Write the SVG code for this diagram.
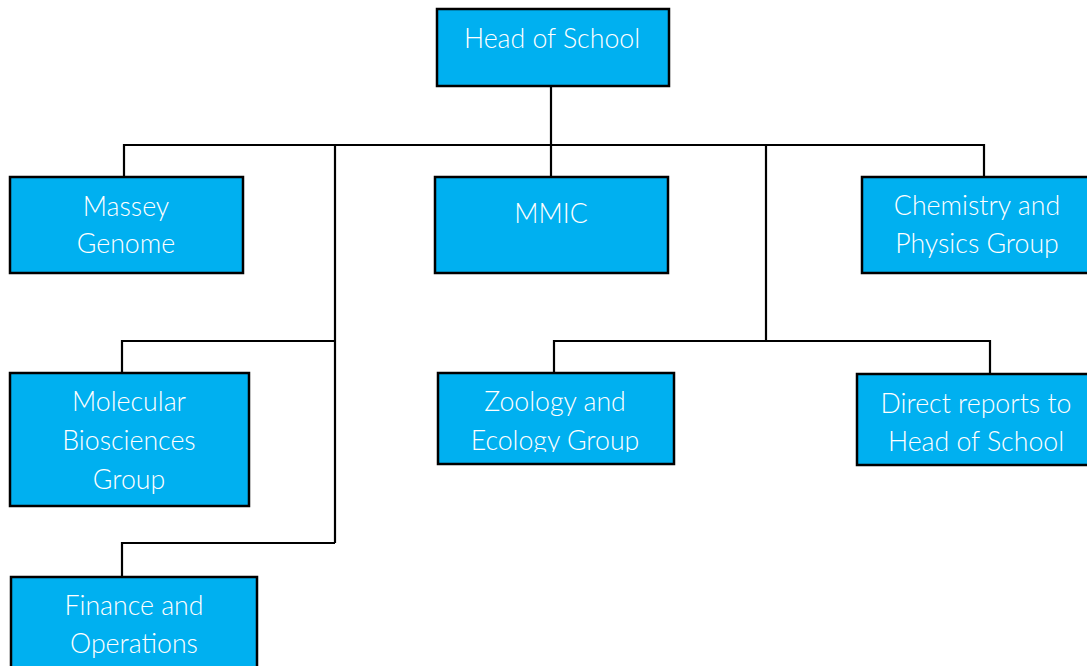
<svg xmlns="http://www.w3.org/2000/svg" width="1087" height="666" viewBox="0 0 1087 666">
<style>
.box{fill:#00B0F0;stroke:#000;stroke-width:2.5}
.t{font-family:Lato,"Liberation Sans",sans-serif;font-size:26.7px;font-weight:300;fill:#fff;text-anchor:middle}
.c{fill:none;stroke:#000;stroke-width:2.2}
</style>
<defs>
<clipPath id="zclip"><rect x="437" y="373" width="238" height="79"/></clipPath>
</defs>
<rect width="1087" height="666" fill="#fff"/>
<g id="connectors">
<path class="c" d="M551 86V145M124 177V145H984V177M551 145V177M335 145V543M122 373V341H335M122 577V543H335M766 145V341M554 373V341H990V374"/>
</g>
<g id="head"><rect class="box" x="437" y="9" width="232" height="77"/><text class="t" x="552" y="48">Head of School</text></g>
<g id="massey"><rect class="box" x="10" y="177" width="233" height="96"/><text class="t" x="126" y="216">Massey</text><text class="t" x="126" y="253">Genome</text></g>
<g id="mmic"><rect class="box" x="435" y="177" width="233" height="96"/><text class="t" x="551" y="223">MMIC</text></g>
<g id="chem"><rect class="box" x="862" y="177" width="232" height="96"/><text class="t" x="977" y="215">Chemistry and</text><text class="t" x="977" y="253">Physics Group</text></g>
<g id="molecular"><rect class="box" x="10" y="373" width="239" height="133"/><text class="t" x="129" y="411">Molecular</text><text class="t" x="129" y="450">Biosciences</text><text class="t" x="129" y="489">Group</text></g>
<g id="zoology"><rect class="box" x="438" y="373" width="236" height="91"/><g clip-path="url(#zclip)"><text class="t" x="555" y="411">Zoology and</text><text class="t" x="555" y="450">Ecology Group</text></g></g>
<g id="direct"><rect class="box" x="857" y="374" width="236" height="91"/><text class="t" x="976" y="413">Direct reports to</text><text class="t" x="976" y="451">Head of School</text></g>
<g id="finance"><rect class="box" x="11" y="577" width="246" height="95"/><text class="t" x="134" y="615">Finance and</text><text class="t" x="134" y="653">Operations</text></g>
</svg>
